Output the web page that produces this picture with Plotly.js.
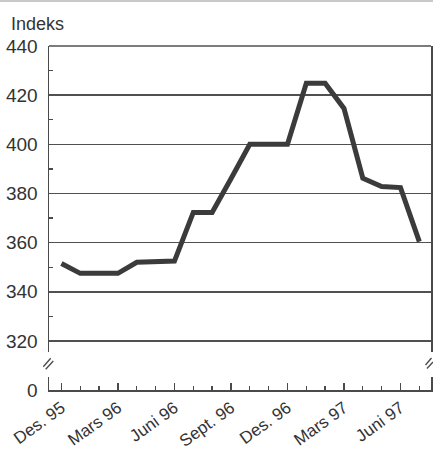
<!DOCTYPE html>
<html>
<head>
<meta charset="utf-8">
<script src="https://cdn.plot.ly/plotly-3.0.1.min.js"></script>
<style>html,body{margin:0;padding:0;background:#fff;}#chart{width:433px;height:458px;}</style>
</head>
<body>
<div id="chart"></div>
<script>
// Month index 0 = Des. 95 ... 19 = Juli 97
const months = [0,1,2,3,4,5,6,7,8,9,10,11,12,13,14,15,16,17,18,19];
const indeks = [351.5,347.5,347.5,347.5,352,352.5,352.5,372.3,372.3,386,400,400,400,424.8,424.8,414.6,386.2,382.8,382.4,360.4];
const tickPositions = [0,3,6,9,12,15,18];
const tickLabels = ["Des. 95","Mars 96","Juni 96","Sept. 96","Des. 96","Mars 97","Juni 97"];

const W = 433, H = 458;
const L = 49, R = 431, T = 46, B = 390;
const pw = R - L, ph = B - T;
const px = x => (x - L) / pw;
const py = y => (B - y) / ph;
const FONT = '"Liberation Sans Narrow", "Arial Narrow", "Liberation Sans", Arial, sans-serif';
const AX = '#4a4a4a';

const trace = {
  x: months, y: indeks, type: 'scatter', mode: 'lines',
  line: {color: '#3b3b3b', width: 5, shape: 'linear'},
  xaxis: 'x', yaxis: 'y', hoverinfo: 'skip'
};
const dummy = {
  x: [months[0]], y: [0], type: 'scatter', mode: 'markers',
  marker: {opacity: 0, size: 1}, xaxis: 'x', yaxis: 'y2', hoverinfo: 'skip'
};

function seg(x0,y0,x1,y1,w){
  return {type:'line', xref:'paper', yref:'paper', x0:px(x0), y0:py(y0), x1:px(x1), y1:py(y1),
          line:{color:AX, width:w||1.3}};
}

const layout = {
  width: W, height: H,
  margin: {l: L, r: W - R, t: T, b: H - B, pad: 0},
  paper_bgcolor: '#fff', plot_bgcolor: 'rgba(0,0,0,0)',
  showlegend: false,
  font: {family: FONT, color: '#333'},
  xaxis: {
    range: [-0.66, 19.62], anchor: 'y2',
    tickmode: 'array', tickvals: tickPositions, ticktext: tickLabels,
    ticks: 'inside', ticklen: 7, tickwidth: 1.3, tickcolor: AX,
    minor: {dtick: 1, tick0: 0, ticks: 'inside', ticklen: 4, tickwidth: 1.3, tickcolor: AX, showgrid: false},
    showgrid: false, zeroline: false,
    showline: true, linecolor: AX, linewidth: 1.5,
    tickangle: -36, tickfont: {size: 17, family: FONT, color: '#333'}
  },
  yaxis: {
    domain: [py(352), 1], range: [315.5, 440], anchor: 'x',
    tickmode: 'linear', tick0: 0, dtick: 20,
    ticks: '', showgrid: true, gridcolor: '#505050', gridwidth: 1.5,
    minor: {dtick: 10, tick0: 0, ticks: 'inside', ticklen: 4, tickwidth: 1.3, tickcolor: AX, showgrid: false},
    zeroline: false, showline: true, linecolor: AX, linewidth: 1.5, mirror: true,
    ticklabelstandoff: 6,
    tickfont: {size: 19, family: FONT, color: '#333'}
  },
  yaxis2: {
    domain: [0, py(377)], range: [0, 5.3], anchor: 'x',
    tickmode: 'array', tickvals: [0], ticktext: ['0'],
    ticks: '', showgrid: false, zeroline: false,
    showline: true, linecolor: AX, linewidth: 1.5, mirror: true,
    ticklabelstandoff: 6,
    tickfont: {size: 19, family: FONT, color: '#333'}
  },
  shapes: [
    {type:'line', xref:'paper', yref:'paper', x0:px(L), x1:px(R), y0:1, y1:1, line:{color:'#505050', width:1.5}},
    // top page rule
    {type:'line', xref:'paper', yref:'paper', x0:px(0), x1:px(W), y0:py(1), y1:py(1), line:{color:'#c8c8c8', width:2}},
    // left break marks
    seg(43.3,366.7,50.7,358.3), seg(45.7,369.3,53.3,361),
    // right break marks
    seg(425.5,365,431.5,358), seg(427,368.5,433,362)
  ],
  annotations: [
    {text: 'Indeks', xref: 'paper', yref: 'paper', x: px(9), y: py(12), xanchor: 'left', yanchor: 'top',
     showarrow: false, font: {size: 18, family: FONT, color: '#333'}}
  ]
};

Plotly.newPlot('chart', [trace, dummy], layout, {staticPlot: true, displayModeBar: false});
</script>
</body>
</html>
